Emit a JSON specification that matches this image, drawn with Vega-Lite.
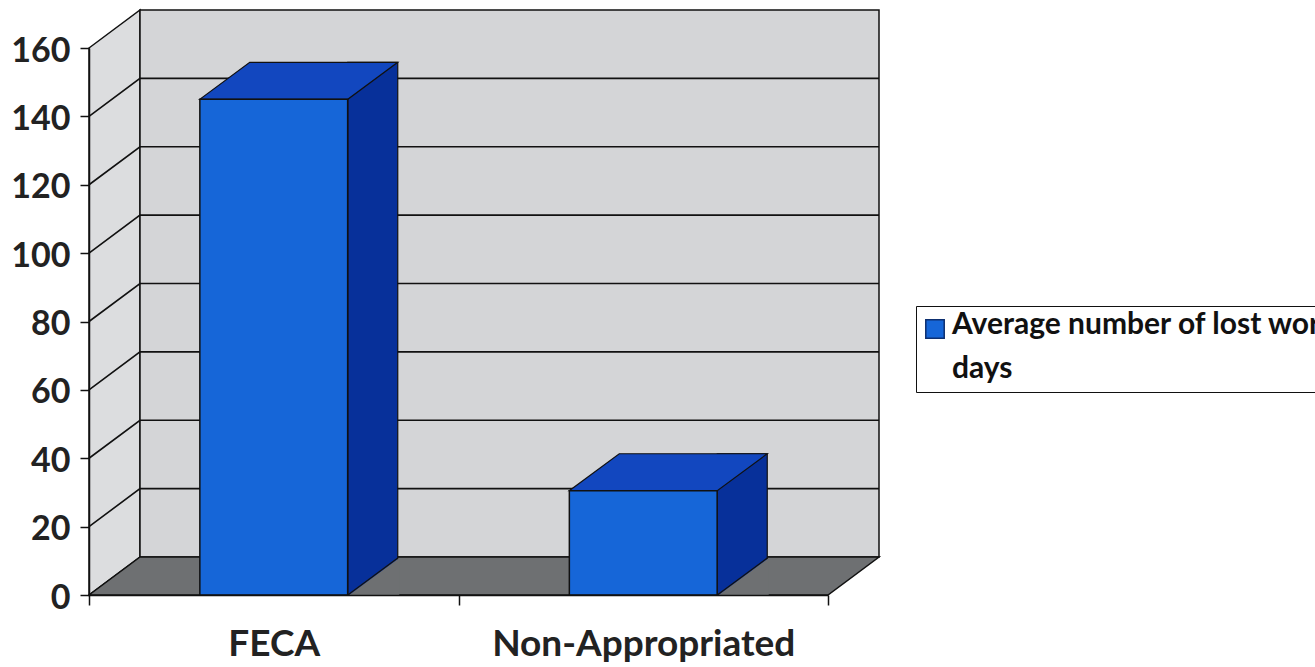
{
  "$schema": "https://vega.github.io/schema/vega-lite/v6.json",
  "width": 739,
  "height": 547,
  "autosize": {"type": "none"},
  "padding": {"left": 89, "top": 48, "right": 487, "bottom": 72},
  "background": "white",
  "config": {"view": {"stroke": null}, "font": "Lato"},
  "datasets": {
    "bars": [
      {"category": "FECA", "days": 145},
      {"category": "Non-Appropriated", "days": 30.5}
    ],
    "ticks": [
      {"tick": 20}, {"tick": 40}, {"tick": 60}, {"tick": 80},
      {"tick": 100}, {"tick": 120}, {"tick": 140}
    ],
    "anchor": [{"spot": "corner"}]
  },
  "layer": [
    {
      "data": {"name": "anchor"},
      "mark": {"type": "point", "shape": "M-184.75,-547L-133.75,-585L-133.75,-38L-184.75,0Z", "size": 4, "filled": true, "fill": "#dcdddf", "stroke": "#111111", "strokeWidth": 1.5, "opacity": 1},
      "encoding": {
        "x": {"datum": "FECA", "type": "nominal", "scale": {"type": "band", "domain": ["FECA", "Non-Appropriated"], "paddingInner": 0, "paddingOuter": 0},
          "axis": {"title": null, "labelAngle": 0, "tickBand": "extent", "tickSize": 10, "tickColor": "#111111", "tickWidth": 1.5, "domainColor": "#111111", "domainWidth": 1.5, "labelFont": "Lato", "labelFontSize": 37, "labelFontWeight": "bold", "labelColor": "#222222", "labelPadding": 21, "labelLimit": 1000, "zindex": 1}},
        "y": {"datum": 0, "type": "quantitative", "scale": {"domain": [0, 160], "nice": false},
          "axis": {"title": null, "values": [0, 20, 40, 60, 80, 100, 120, 140, 160], "grid": false, "tickSize": 9, "tickColor": "#111111", "tickWidth": 1.5, "domainColor": "#111111", "domainWidth": 1.5, "labelFont": "Lato", "labelFontSize": 34, "labelFontWeight": "bold", "labelColor": "#222222", "labelPadding": 10, "labelOffset": 3, "zindex": 1}}
      }
    },
    {
      "data": {"name": "anchor"},
      "mark": {"type": "point", "shape": "M-133.75,-585L605.25,-585L605.25,-38L-133.75,-38Z", "size": 4, "filled": true, "fill": "#d4d5d7", "stroke": "#111111", "strokeWidth": 1.5, "opacity": 1},
      "encoding": {
        "x": {"datum": "FECA", "type": "nominal"},
        "y": {"datum": 0, "type": "quantitative"}
      }
    },
    {
      "data": {"name": "anchor"},
      "mark": {"type": "point", "shape": "M-184.75,0L554.25,0L605.25,-38L-133.75,-38Z", "size": 4, "filled": true, "fill": "#6e7072", "stroke": "#111111", "strokeWidth": 1.5, "opacity": 1},
      "encoding": {
        "x": {"datum": "FECA", "type": "nominal"},
        "y": {"datum": 0, "type": "quantitative"}
      }
    },
    {
      "data": {"name": "ticks"},
      "mark": {"type": "point", "shape": "M-184.75,0L-133.75,-38L605.25,-38", "size": 4, "filled": false, "fill": null, "stroke": "#111111", "strokeWidth": 1.6, "opacity": 1},
      "encoding": {
        "x": {"datum": "FECA", "type": "nominal"},
        "y": {"field": "tick", "type": "quantitative"}
      }
    },
    {
      "data": {"name": "bars"},
      "mark": {"type": "bar", "width": 50, "xOffset": 99, "yOffset": -37, "fill": "#07309a", "stroke": "#111111", "strokeWidth": 1.2},
      "encoding": {
        "x": {"field": "category", "type": "nominal"},
        "y": {"field": "days", "type": "quantitative"},
        "y2": {"datum": 0}
      }
    },
    {
      "data": {"name": "bars"},
      "mark": {"type": "point", "shape": "M-74,0L74,0L124,-37L-24,-37Z", "size": 4, "filled": true, "fill": "#1247bf", "stroke": "#111111", "strokeWidth": 1.2, "opacity": 1},
      "encoding": {
        "x": {"field": "category", "type": "nominal"},
        "y": {"field": "days", "type": "quantitative"}
      }
    },
    {
      "data": {"name": "bars"},
      "mark": {"type": "point", "shape": "M74,1L125.5,1L125.5,-37Z", "size": 4, "filled": true, "fill": "#6e7072", "strokeWidth": 0, "opacity": 1},
      "encoding": {
        "x": {"field": "category", "type": "nominal"},
        "y": {"datum": 0, "type": "quantitative"}
      }
    },
    {
      "data": {"name": "bars"},
      "mark": {"type": "point", "shape": "M74,0L124,-37", "size": 4, "filled": false, "fill": null, "stroke": "#111111", "strokeWidth": 1.2, "opacity": 1},
      "encoding": {
        "x": {"field": "category", "type": "nominal"},
        "y": {"datum": 0, "type": "quantitative"}
      }
    },
    {
      "data": {"name": "bars"},
      "mark": {"type": "bar", "width": {"band": 0.4}, "stroke": "#111111", "strokeWidth": 1.5},
      "encoding": {
        "x": {"field": "category", "type": "nominal"},
        "y": {"field": "days", "type": "quantitative"},
        "y2": {"datum": 0},
        "color": {
          "datum": "Average number of lost work days", "type": "nominal",
          "scale": {"range": ["#1666d8"]},
          "legend": {
            "title": null, "orient": "none", "legendX": 827, "legendY": 258,
            "strokeColor": "#111111", "padding": 8,
            "symbolType": "square", "symbolSize": 340, "symbolStrokeColor": "#0d2f70", "symbolStrokeWidth": 1.5, "symbolOffset": -4,
            "labelFont": "Lato", "labelFontSize": 30, "labelFontWeight": "bold", "labelColor": "#111111", "labelLimit": 2000,
            "labelExpr": "[slice(datum.label, 0, 27), slice(datum.label, 28)]",
            "labelBaseline": "top", "labelOffset": 2,
            "encode": {"labels": {"update": {"lineHeight": {"value": 44}, "dy": {"value": -19}}}}
          }
        }
      }
    }
  ]
}
